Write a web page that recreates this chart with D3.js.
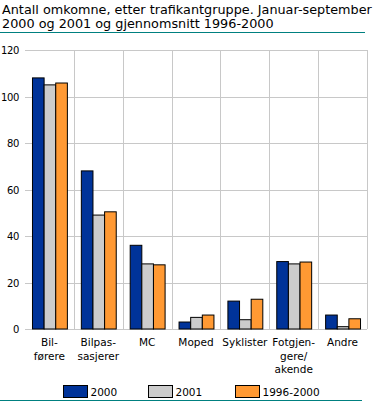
<!DOCTYPE html>
<html>
<head>
<meta charset="utf-8">
<script src="https://cdnjs.cloudflare.com/ajax/libs/d3/7.8.5/d3.min.js"></script>
<style>
  body { margin: 0; background: #fff; }
  svg { display: block; font-family: "DejaVu Sans", Verdana, sans-serif; }
</style>
</head>
<body>
<div class="canvas"></div>
<script>
// categories (x labels split over lines)
const categories = ['Bilførere', 'Bilpassasjerer', 'MC', 'Moped', 'Syklister', 'Fotgjengere/akende', 'Andre'];
const catLabels = [['Bil-', 'førere'], ['Bilpas-', 'sasjerer'], ['MC'], ['Moped'], ['Syklister'], ['Fotgjen-', 'gere/', 'akende'], ['Andre']];
const seriesNames = ['2000', '2001', '1996-2000'];
const v2000 = [108, 68, 36, 3, 12, 29, 6];
const v2001 = [105, 49, 28, 5, 4, 28, 1];
const vAvg = [105.8, 50.4, 27.6, 6, 12.8, 28.8, 4.4];
const yTicks = [0, 20, 40, 60, 80, 100, 120];
const colors = ['#003399', '#cccccc', '#ff9933'];

const dims = {width: 376, height: 402};
const margin = {left: 25, right: 9, top: 50, bottom: 73};

const svg = d3.select('.canvas').append('svg')
    .attr('width', dims.width).attr('height', dims.height);

// title
const title = svg.append('text').attr('x', 2).attr('y', 14)
    .attr('font-size', 12.8).attr('fill', '#000');
title.append('tspan').attr('x', 2).attr('y', 14).text('Antall omkomne, etter trafikantgruppe. Januar-september');
title.append('tspan').attr('x', 2).attr('y', 28).text('2000 og 2001 og gjennomsnitt 1996-2000');

svg.append('line').attr('x1', 0).attr('x2', 365).attr('y1', 32.5).attr('y2', 32.5)
    .attr('stroke', '#008080').attr('stroke-width', 1);
svg.append('line').attr('x1', 0).attr('x2', 362).attr('y1', 400.5).attr('y2', 400.5)
    .attr('stroke', '#008080').attr('stroke-width', 1);

const x0 = d3.scaleBand().domain(categories)
    .range([margin.left, dims.width - margin.right]);
const x1 = d3.scaleBand().domain(seriesNames)
    .range([0, x0.bandwidth()]).paddingOuter(0.6).paddingInner(0);
const y = d3.scaleLinear().domain([0, 120])
    .range([dims.height - margin.bottom, margin.top]);

const graph = svg.append('g');

// gridlines
graph.selectAll('line.h').data(yTicks).enter().append('line')
    .attr('x1', margin.left).attr('x2', dims.width - margin.right)
    .attr('y1', d => Math.round(y(d)) + 0.5).attr('y2', d => Math.round(y(d)) + 0.5)
    .attr('stroke', '#c8c8c8');
graph.selectAll('line.v').data(categories.slice(1).concat(['end'])).enter().append('line')
    .attr('x1', (d, i) => Math.round(x0.range()[0] + x0.step() * (i + 1)) + 0.5)
    .attr('x2', (d, i) => Math.round(x0.range()[0] + x0.step() * (i + 1)) + 0.5)
    .attr('y1', margin.top).attr('y2', y(0))
    .attr('stroke', '#c8c8c8');

// y labels
graph.selectAll('text.yl').data(yTicks).enter().append('text')
    .attr('x', 19).attr('y', d => y(d) + 4)
    .attr('text-anchor', 'end').attr('font-size', 10).attr('letter-spacing', -0.4)
    .text(d => d);

// bars
const seriesData = [v2000, v2001, vAvg];
const groups = graph.selectAll('g.cat').data(categories).enter().append('g')
    .attr('transform', d => `translate(${x0(d)},0)`);
groups.selectAll('rect').data((d, i) => seriesNames.map((s, j) => ({s, v: seriesData[j][i], j})))
    .enter().append('rect')
    .attr('x', d => x1(d.s) + 0.5)
    .attr('width', x1.bandwidth())
    .attr('y', d => y(d.v))
    .attr('height', d => y(0) - y(d.v))
    .attr('fill', d => colors[d.j])
    .attr('stroke', '#000').attr('stroke-width', 1);

// x labels
groups.each(function(d, i) {
    const t = d3.select(this).append('text')
        .attr('text-anchor', 'middle').attr('font-size', 10.5);
    catLabels[i].forEach((l, k) => {
        t.append('tspan').attr('x', x0.bandwidth() / 2).attr('y', 346 + k * 13.5).text(l);
    });
});

// legend
const legX = [63, 148, 235];
const leg = svg.selectAll('g.leg').data(seriesNames).enter().append('g')
    .attr('transform', (d, i) => `translate(${legX[i]},385)`);
leg.append('rect').attr('x', 0.5).attr('y', 0.5).attr('width', 24).attr('height', 12)
    .attr('fill', (d, i) => colors[i]).attr('stroke', '#000');
leg.append('text').attr('x', 27.5).attr('y', 11).attr('font-size', 10.5).text(d => d);
</script>
</body>
</html>
